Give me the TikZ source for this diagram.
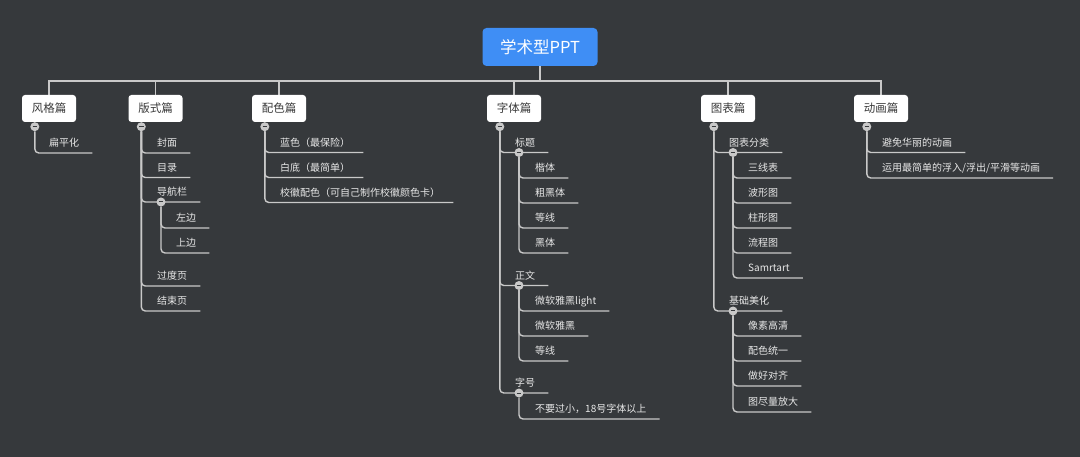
\documentclass[tikz,border=0pt]{standalone}
\usepackage{fontspec}
\setmainfont{Noto Sans CJK SC}
\usetikzlibrary{positioning,backgrounds}
\definecolor{bgdark}{HTML}{36393C}
\definecolor{linegray}{HTML}{C9C9C9}
\definecolor{rootblue}{HTML}{3F8EF5}
\definecolor{leaftext}{HTML}{E8E8E8}
\definecolor{boxtext}{HTML}{3A3A3A}

\begin{document}
\begin{tikzpicture}[x=1pt, y=-1pt,
    root/.style={fill=rootblue, rounded corners=4pt, text=white, font=\fontsize{16.5}{18}\selectfont, minimum width=115pt, minimum height=38pt, inner sep=0pt},
    topic/.style={fill=white, rounded corners=3pt, text=boxtext, font=\fontsize{11.5}{13}\selectfont, minimum width=54pt, minimum height=27pt, inner sep=0pt},
    leaf/.style={anchor=south west, text=leaftext, font=\fontsize{10}{12}\selectfont, inner xsep=0pt, inner ysep=4pt, text height=8pt, text depth=2pt},
    toggle/.style={circle, fill=linegray, minimum size=9pt, inner sep=0pt,
      path picture={\draw[bgdark, line width=1pt] ([xshift=-2.3pt]path picture bounding box.center) -- ([xshift=2.3pt]path picture bounding box.center);}},
    link/.style={draw=linegray, line width=1.4pt},
    branch/.style={link, rounded corners=4pt}
  ]
    \begin{scope}[on background layer]
      \fill[bgdark] (0,0) rectangle (1080,457);
    \end{scope}

    % root and topics
    \node[root] (root) at (540,47) {学术型PPT};
    \node[topic] (fg) at (49,108.5) {风格篇};
    \node[topic] (bs) at (155.5,108.5) {版式篇};
    \node[topic] (ps) at (279,108.5) {配色篇};
    \node[topic] (zt) at (514,108.5) {字体篇};
    \node[topic] (tb) at (728,108.5) {图表篇};
    \node[topic] (dh) at (881,108.5) {动画篇};

    \foreach \b in {fg,bs,ps,zt,tb,dh}
      \node[toggle] (\b-t) at ([xshift=13pt,yshift=-4.5pt]\b.south west) {};

    % 风格篇
    \node[leaf] (fg1) at (49,153) {扁平化};

    % 版式篇
    \node[leaf] (bs1) at (157,153) {封面};
    \node[leaf] (bs2) at (157,177.5) {目录};
    \node[leaf] (bs3) at (157,202) {导航栏};
    \node[toggle] (bs3-t) at ([xshift=4pt]bs3.south west) {};
    \node[leaf] (bs3a) at (176,228) {左边};
    \node[leaf] (bs3b) at (176,253) {上边};
    \node[leaf] (bs4) at (157,286) {过度页};
    \node[leaf] (bs5) at (157,311) {结束页};

    % 配色篇
    \node[leaf] (ps1) at (280,152.5) {蓝色（最保险）};
    \node[leaf] (ps2) at (280,177.5) {白底（最简单）};
    \node[leaf] (ps3) at (280,202.5) {校徽配色（可自己制作校徽颜色卡）};

    % 字体篇
    \node[leaf] (zt1) at (515,152.5) {标题};
    \node[toggle] (zt1-t) at ([xshift=4pt]zt1.south west) {};
    \node[leaf] (zt1a) at (535,178) {楷体};
    \node[leaf] (zt1b) at (535,203) {粗黑体};
    \node[leaf] (zt1c) at (535,228) {等线};
    \node[leaf] (zt1d) at (535,253) {黑体};
    \node[leaf] (zt2) at (515,285.5) {正文};
    \node[toggle] (zt2-t) at ([xshift=4pt]zt2.south west) {};
    \node[leaf] (zt2a) at (535,311) {微软雅黑light};
    \node[leaf] (zt2b) at (535,336) {微软雅黑};
    \node[leaf] (zt2c) at (535,361) {等线};
    \node[leaf] (zt3) at (515,393) {字号};
    \node[toggle] (zt3-t) at ([xshift=4pt]zt3.south west) {};
    \node[leaf] (zt3a) at (535,419) {不要过小，18号字体以上};

    % 图表篇
    \node[leaf] (tb1) at (729,152.5) {图表分类};
    \node[toggle] (tb1-t) at ([xshift=4pt]tb1.south west) {};
    \node[leaf] (tb1a) at (748,178) {三线表};
    \node[leaf] (tb1b) at (748,203) {波形图};
    \node[leaf] (tb1c) at (748,228) {柱形图};
    \node[leaf] (tb1d) at (748,253) {流程图};
    \node[leaf] (tb1e) at (748,278) {Samrtart};
    \node[leaf] (tb2) at (729,311) {基础美化};
    \node[toggle] (tb2-t) at ([xshift=4pt]tb2.south west) {};
    \node[leaf] (tb2a) at (748,336) {像素高清};
    \node[leaf] (tb2b) at (748,361) {配色统一};
    \node[leaf] (tb2c) at (748,386) {做好对齐};
    \node[leaf] (tb2d) at (748,412) {图尽量放大};

    % 动画篇
    \node[leaf] (dh1) at (882,152.5) {避免华丽的动画};
    \node[leaf] (dh2) at (882,178) {运用最简单的浮入/浮出/平滑等动画};

    \begin{scope}[on background layer]
      \foreach \b in {fg,bs,ps,zt,tb,dh}
        \draw[link] (root.south) -- ++(0,15) -| (\b.north);
      \foreach \p/\c in {fg-t/fg1, bs-t/bs1, bs-t/bs2, bs-t/bs3, bs-t/bs4, bs-t/bs5,
          bs3-t/bs3a, bs3-t/bs3b, ps-t/ps1, ps-t/ps2, ps-t/ps3,
          zt-t/zt1, zt-t/zt2, zt-t/zt3, zt1-t/zt1a, zt1-t/zt1b, zt1-t/zt1c, zt1-t/zt1d,
          zt2-t/zt2a, zt2-t/zt2b, zt2-t/zt2c, zt3-t/zt3a,
          tb-t/tb1, tb-t/tb2, tb1-t/tb1a, tb1-t/tb1b, tb1-t/tb1c, tb1-t/tb1d, tb1-t/tb1e,
          tb2-t/tb2a, tb2-t/tb2b, tb2-t/tb2c, tb2-t/tb2d, dh-t/dh1, dh-t/dh2}
        \draw[branch] (\p.south) |- ([xshift=13pt]\c.south east);
    \end{scope}
  \end{tikzpicture}
\end{document}
